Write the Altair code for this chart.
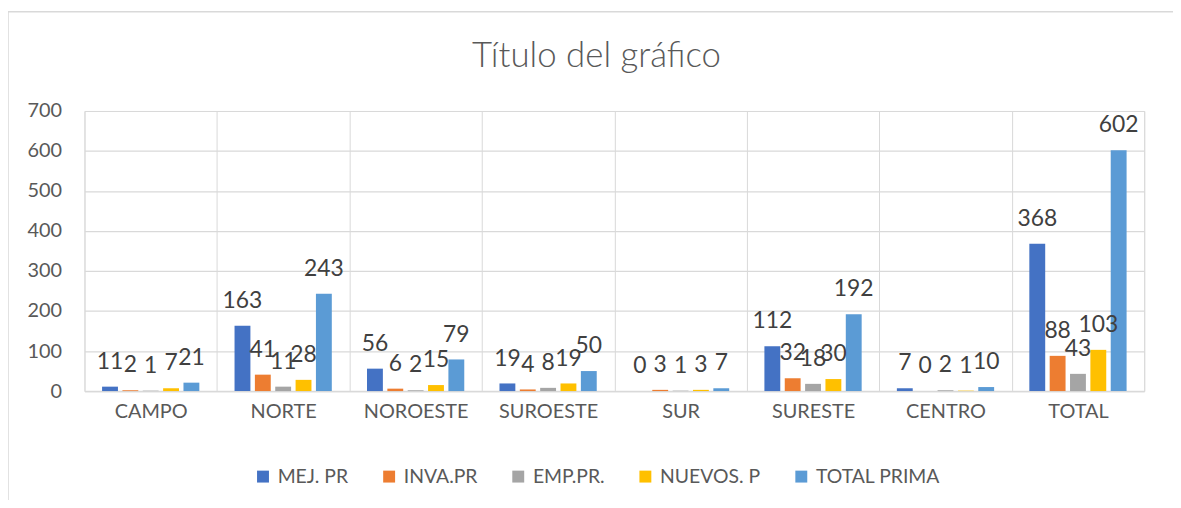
import altair as alt
import pandas as pd

categories = ["CAMPO", "NORTE", "NOROESTE", "SUROESTE", "SUR", "SURESTE", "CENTRO", "TOTAL"]
series = ["MEJ. PR", "INVA.PR", "EMP.PR.", "NUEVOS. P", "TOTAL PRIMA"]
mej_pr = [11, 163, 56, 19, 0, 112, 7, 368]
inva_pr = [2, 41, 6, 4, 3, 32, 0, 88]
emp_pr = [1, 11, 2, 8, 1, 18, 2, 43]
nuevos_p = [7, 28, 15, 19, 3, 30, 1, 103]
total_prima = [21, 243, 79, 50, 7, 192, 10, 602]
colors = ["#4472C4", "#ED7D31", "#A5A5A5", "#FFC000", "#5B9BD5"]

rows = []
for s, vals in zip(series, [mej_pr, inva_pr, emp_pr, nuevos_p, total_prima]):
    for c, v in zip(categories, vals):
        rows.append({"cat": c, "serie": s, "valor": v})
df = pd.DataFrame(rows)

FONT = "Lato"

x_enc = alt.X(
    "cat:N",
    sort=categories,
    title=None,
    scale=alt.Scale(paddingInner=0, paddingOuter=0),
    axis=alt.Axis(
        labelAngle=0, labelFont=FONT, labelFontSize=20, labelColor="#595959",
        labelPadding=11, ticks=False, grid=True, tickBand="extent",
        gridColor="#D9D9D9", domainColor="#D9D9D9", domainWidth=1.5,
    ),
)
xo_enc = alt.XOffset(
    "serie:N", sort=series,
    scale=alt.Scale(paddingInner=0.22, paddingOuter=0.865),
)
y_enc = alt.Y(
    "valor:Q",
    title=None,
    scale=alt.Scale(domain=[0, 700]),
    axis=alt.Axis(
        values=[0, 100, 200, 300, 400, 500, 600, 700],
        labelFont=FONT, labelFontSize=20, labelColor="#595959",
        labelPadding=23, ticks=False, domain=False,
        gridColor="#D9D9D9", gridWidth=1.2,
    ),
)

base = alt.Chart(df)

border = alt.Chart(pd.DataFrame({"a": [0]})).mark_rect(
    fillOpacity=0, stroke="#D9D9D9", strokeWidth=1.5
).encode(
    x=alt.value(-77), x2=alt.value(1200), y=alt.value(-100), y2=alt.value(500)
)

bars = base.mark_bar().encode(
    x=x_enc,
    xOffset=xo_enc,
    y=y_enc,
    color=alt.Color(
        "serie:N", sort=series,
        scale=alt.Scale(domain=series, range=colors),
        legend=alt.Legend(
            title=None, orient="none", legendX=170, legendY=358,
            direction="horizontal", columns=5,
            symbolType="square", symbolSize=144, symbolStrokeWidth=0,
            labelFont=FONT, labelFontSize=19.5, labelColor="#595959",
            labelOffset=5, columnPadding=31,
        ),
    ),
)

labels = base.mark_text(
    font=FONT, fontSize=23, color="#404040", align="center",
    baseline="alphabetic", dy=-18,
).encode(
    x=alt.X("cat:N", sort=categories),
    xOffset=alt.XOffset("serie:N", sort=series),
    y=alt.Y("valor:Q"),
    text="valor:Q",
)

chart = alt.layer(border, bars, labels).properties(
    width=1067,
    height=282,
    padding={"left": 77, "top": 102, "right": 29, "bottom": 108},
    autosize=alt.AutoSizeParams(type="none"),
    title=alt.TitleParams(
        "Título del gráfico", font=FONT, fontSize=35, fontWeight=300,
        color="#595959", anchor="middle", dx=-18, offset=0, dy=91,
        frame="group", baseline="alphabetic",
    ),
).configure_view(stroke="#D9D9D9", strokeWidth=1.2).configure(background="white")

chart.save("out.html", embed_options={"renderer": "svg", "actions": False})
